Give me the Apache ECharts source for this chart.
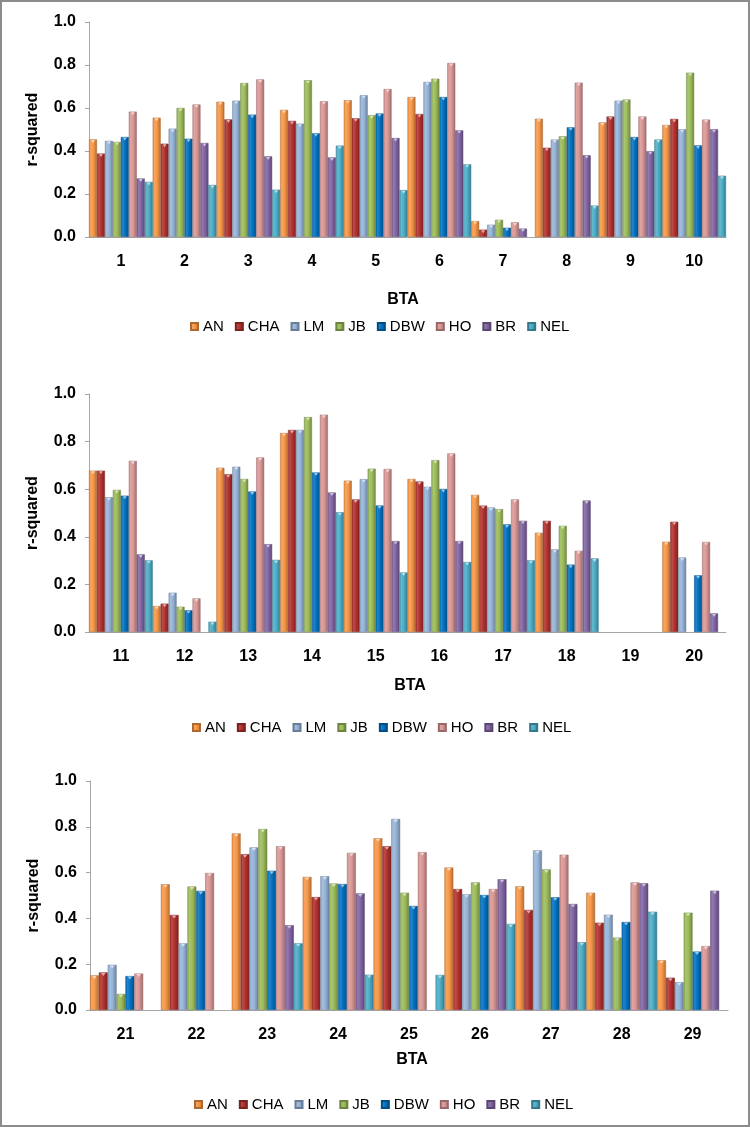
<!DOCTYPE html>
<html>
<head>
<meta charset="utf-8">
<script src="https://cdn.jsdelivr.net/npm/echarts@6/dist/echarts.min.js"></script>
<style>
  html, body { margin: 0; padding: 0; background: #fff; }
  #chart { width: 750px; height: 1127px; box-sizing: border-box; border: 2px solid #8c8c8c; }
</style>
</head>
<body>
<div id="chart"></div>
<script>
// ---- Data (r-squared per BTA; null = no bar) ----
const seriesNames = ['AN', 'CHA', 'LM', 'JB', 'DBW', 'HO', 'BR', 'NEL'];
const btaPanel1 = ['1', '2', '3', '4', '5', '6', '7', '8', '9', '10'];
const btaPanel2 = ['11', '12', '13', '14', '15', '16', '17', '18', '19', '20'];
const btaPanel3 = ['21', '22', '23', '24', '25', '26', '27', '28', '29'];
const yTicks = [0.0, 0.2, 0.4, 0.6, 0.8, 1.0];

const AN  = [0.454, 0.555, 0.629, 0.591, 0.636, 0.651, 0.074, 0.550, 0.533, 0.521,
             0.678, 0.109, 0.690, 0.836, 0.636, 0.643, 0.576, 0.417, null, 0.379,
             0.151, 0.549, 0.771, 0.581, 0.750, 0.622, 0.540, 0.512, 0.217];
const CHA = [0.388, 0.434, 0.547, 0.540, 0.552, 0.572, 0.034, 0.415, 0.560, 0.549,
             0.678, 0.119, 0.663, 0.849, 0.557, 0.632, 0.531, 0.467, null, 0.463,
             0.164, 0.415, 0.680, 0.493, 0.715, 0.528, 0.437, 0.381, 0.141];
const LM  = [0.447, 0.504, 0.634, 0.527, 0.659, 0.721, 0.057, 0.453, 0.634, 0.501,
             0.566, 0.165, 0.694, 0.849, 0.642, 0.610, 0.523, 0.347, null, 0.313,
             0.197, 0.291, 0.710, 0.584, 0.834, 0.505, 0.697, 0.416, 0.121];
const JB  = [0.442, 0.600, 0.716, 0.729, 0.566, 0.736, 0.080, 0.468, 0.639, 0.764,
             0.597, 0.106, 0.643, 0.903, 0.686, 0.722, 0.516, 0.446, null, null,
             0.070, 0.539, 0.790, 0.552, 0.512, 0.557, 0.614, 0.316, 0.425];
const DBW = [0.465, 0.457, 0.569, 0.482, 0.574, 0.651, 0.043, 0.510, 0.465, 0.426,
             0.573, 0.091, 0.590, 0.670, 0.531, 0.601, 0.452, 0.283, null, 0.238,
             0.148, 0.520, 0.608, 0.550, 0.454, 0.502, 0.492, 0.384, 0.255];
const HO  = [0.583, 0.616, 0.733, 0.631, 0.688, 0.809, 0.068, 0.718, 0.560, 0.546,
             0.719, 0.141, 0.733, 0.913, 0.685, 0.750, 0.557, 0.341, null, 0.378,
             0.159, 0.598, 0.715, 0.686, 0.689, 0.528, 0.678, 0.557, 0.279];
const BR  = [0.272, 0.437, 0.375, 0.370, 0.460, 0.496, 0.039, 0.380, 0.399, 0.501,
             0.326, null, 0.369, 0.586, 0.382, 0.382, 0.467, 0.552, null, 0.078,
             null, null, 0.370, 0.509, null, 0.571, 0.463, 0.553, 0.521];
const NEL = [0.256, 0.242, 0.220, 0.425, 0.218, 0.338, null, 0.146, 0.453, 0.285,
             0.301, 0.043, 0.303, 0.503, 0.250, 0.294, 0.301, 0.309, null, null,
             null, null, 0.291, 0.154, 0.153, 0.376, 0.296, 0.429, null];

const values = { AN, CHA, LM, JB, DBW, HO, BR, NEL };
const panels = [btaPanel1, btaPanel2, btaPanel3];

// ---- Styles ----
const baseColors = {
  AN: '#F79646', CHA: '#B0302C', LM: '#95B3D7', JB: '#9BBB59',
  DBW: '#0070C0', HO: '#D99694', BR: '#8064A2', NEL: '#4BACC6'
};
function shade(hex, f) {
  const n = parseInt(hex.slice(1), 16);
  let r = (n >> 16) & 255, g = (n >> 8) & 255, b = n & 255;
  if (f >= 0) { r += (255 - r) * f; g += (255 - g) * f; b += (255 - b) * f; }
  else { r *= (1 + f); g *= (1 + f); b *= (1 + f); }
  return 'rgb(' + Math.round(r) + ',' + Math.round(g) + ',' + Math.round(b) + ')';
}
function grad(hex) {
  return new echarts.graphic.LinearGradient(0, 0, 1, 0, [
    { offset: 0, color: shade(hex, -0.05) },
    { offset: 0.25, color: shade(hex, 0.14) },
    { offset: 0.55, color: hex },
    { offset: 1, color: shade(hex, -0.28) }
  ]);
}

const FONT = '"Liberation Sans", Arial, sans-serif';
const grids = [
  { left: 87, right: 22, top: 20, height: 215 },
  { left: 87, right: 22, top: 392, height: 238 },
  { left: 88, right: 20, top: 779, height: 229 }
];
const legendPos = [
  { left: 183, top: 312 },
  { left: 185, top: 713 },
  { left: 187, top: 1090 }
];
const btaPos = [
  { x: 401, y: 298 },
  { x: 408, y: 684 },
  { x: 410, y: 1058 }
];

const xAxes = [], yAxes = [], series = [], legends = [], graphics = [];
let offset = 0;
panels.forEach((cats, p) => {
  xAxes.push({
    type: 'category', gridIndex: p, data: cats,
    axisLine: { lineStyle: { color: '#a6a6a6', width: 1 } },
    axisTick: { length: 5, lineStyle: { color: '#a6a6a6' } },
    axisLabel: { fontSize: 16, fontWeight: 'bold', color: '#000', margin: 17, fontFamily: FONT }
  });
  yAxes.push({
    type: 'value', gridIndex: p, min: 0, max: 1, interval: 0.2,
    name: 'r-squared', nameLocation: 'middle', nameRotate: 90, nameGap: 48,
    nameTextStyle: { fontSize: 16, fontWeight: 'bold', color: '#000', fontFamily: FONT },
    axisLine: { show: true, lineStyle: { color: '#a6a6a6', width: 1 } },
    axisTick: { show: true, length: 4, lineStyle: { color: '#a6a6a6' } },
    splitLine: { show: false },
    axisLabel: {
      fontSize: 16, fontWeight: 'bold', color: '#000', margin: 13, fontFamily: FONT,
      formatter: v => yTicks.includes(Math.round(v * 10) / 10) ? v.toFixed(1) : ''
    }
  });
  const tri = [];
  seriesNames.forEach((name, s) => {
    const data = values[name].slice(offset, offset + cats.length);
    series.push({
      type: 'bar', name: name, xAxisIndex: p, yAxisIndex: p,
      data: data,
      barGap: '0%', barCategoryGap: '0%',
      itemStyle: { color: grad(baseColors[name]), borderColor: shade(baseColors[name], -0.3), borderWidth: 0.5 },
      emphasis: { disabled: true }
    });
    data.forEach((v, i) => { if (v != null) tri.push([i, s, v]); });
  });
  // small bevel triangles on top of each bar (Excel-style), positioned via the axes
  series.push({
    type: 'custom', xAxisIndex: p, yAxisIndex: p, silent: true, z: 3,
    data: tri,
    encode: { x: 0, y: 2 },
    renderItem: function (params, api) {
      const ci = api.value(0), si = api.value(1), v = api.value(2);
      const cw = api.size([1, 0])[0];
      const bw = cw / seriesNames.length;
      const c = api.coord([ci, v]);
      const left = c[0] - cw / 2 + si * bw;
      const top = c[1];
      const col = baseColors[seriesNames[si]];
      return {
        type: 'polygon',
        shape: { points: [[left + bw * 0.25, top + 0.5], [left + bw * 0.75, top + 0.5], [left + bw * 0.5, top + 3.5]] },
        style: { fill: shade(col, 0.6) }
      };
    }
  });
  offset += cats.length;
  legends.push({
    left: legendPos[p].left, top: legendPos[p].top, data: seriesNames,
    icon: 'rect', itemWidth: 7, itemHeight: 7, itemGap: 11,
    textStyle: { fontSize: 15, color: '#000', fontFamily: FONT }
  });
  graphics.push({
    type: 'text', x: btaPos[p].x, y: btaPos[p].y,
    style: { text: 'BTA', font: 'bold 16px ' + FONT, fill: '#000', align: 'center', verticalAlign: 'middle' }
  });
});

const chart = echarts.init(document.getElementById('chart'), null, { renderer: 'canvas' });
chart.setOption({
  animation: false,
  color: seriesNames.map(n => baseColors[n]),
  grid: grids,
  xAxis: xAxes,
  yAxis: yAxes,
  legend: legends,
  graphic: graphics,
  series: series
});
</script>
</body>
</html>
